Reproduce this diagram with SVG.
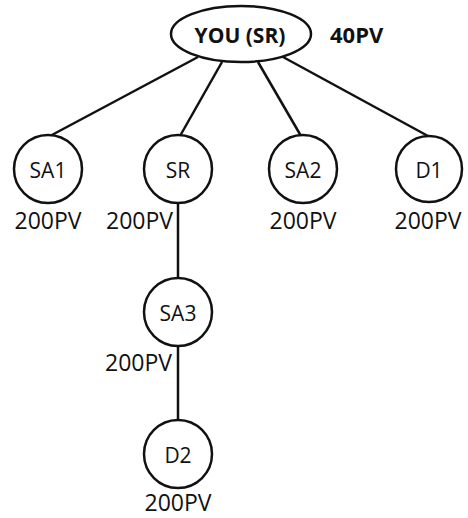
<svg xmlns="http://www.w3.org/2000/svg" width="468" height="518" viewBox="0 0 468 518">
<style>
.n{fill:#fff;stroke:#111;stroke-width:2.5}
.c line{stroke:#111;stroke-width:2.5}
.t{font-family:"Open Sans","Liberation Sans",sans-serif;font-size:21px;fill:#111;text-anchor:middle}
.b{font-weight:bold}
.pv{font-family:"Open Sans","Liberation Sans",sans-serif;font-size:23px;fill:#111}
</style>
<rect width="468" height="518" fill="#fff"/>
<g class="c" id="connectors">
<line x1="198" y1="57" x2="50" y2="136"/>
<line x1="222" y1="62" x2="180" y2="136"/>
<line x1="258" y1="62" x2="301" y2="136"/>
<line x1="283" y1="57" x2="428" y2="136"/>
<line x1="178" y1="203" x2="178" y2="278"/>
<line x1="178" y1="346" x2="178" y2="420"/>
</g>
<g id="you">
<ellipse class="n" cx="241" cy="34" rx="70" ry="28"/>
<text class="t b" x="240" y="43">YOU (SR)</text>
<text class="pv b" x="330" y="43" style="font-size:22px">40PV</text>
</g>
<g id="sa1">
<circle class="n" cx="48" cy="169" r="34"/>
<text class="t" x="48" y="178">SA1</text>
<text class="pv" x="48" y="229" text-anchor="middle">200PV</text>
</g>
<g id="sr">
<circle class="n" cx="178" cy="169" r="34"/>
<text class="t" x="178" y="178">SR</text>
<text class="pv" x="173" y="229" text-anchor="end">200PV</text>
</g>
<g id="sa2">
<circle class="n" cx="303" cy="169" r="34"/>
<text class="t" x="303" y="178">SA2</text>
<text class="pv" x="303" y="229" text-anchor="middle">200PV</text>
</g>
<g id="d1">
<circle class="n" cx="429" cy="169" r="33"/>
<text class="t" x="429" y="178">D1</text>
<text class="pv" x="428" y="229" text-anchor="middle">200PV</text>
</g>
<g id="sa3">
<circle class="n" cx="178" cy="312" r="34"/>
<text class="t" x="178" y="321">SA3</text>
<text class="pv" x="172" y="371" text-anchor="end">200PV</text>
</g>
<g id="d2">
<circle class="n" cx="178" cy="454" r="34"/>
<text class="t" x="178" y="463">D2</text>
<text class="pv" x="178" y="511" text-anchor="middle">200PV</text>
</g>
</svg>
